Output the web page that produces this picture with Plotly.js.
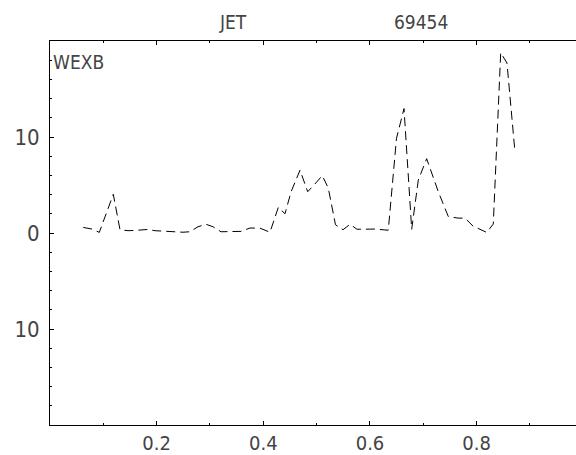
<!DOCTYPE html>
<html>
<head>
<meta charset="utf-8">
<script src="https://cdn.plot.ly/plotly-3.0.1.min.js"></script>
<style>html,body{margin:0;padding:0;background:#fff;overflow:hidden}</style>
</head>
<body>
<div id="chart" style="width:576px;height:455px"></div>
<script>
// WEXB profile, JET pulse 69454
const rho = [0.0624,0.0806,0.0924,0.1187,0.1313,0.1463,0.1594,0.1725,0.1838,0.1969,
  0.2100,0.2250,0.2381,0.2494,0.2625,0.2775,0.2925,0.3056,0.3206,0.3394,
  0.3581,0.3750,0.3938,0.4125,0.4281,0.4406,0.4519,0.4688,0.4832,0.4950,
  0.5106,0.5218,0.5353,0.5494,0.5625,0.5756,0.5906,0.6094,0.6343,0.6497,
  0.6638,0.6782,0.6906,0.7063,0.7281,0.7468,0.7650,0.7782,0.7932,0.8063,
  0.8189,0.8312,0.8451,0.8569,0.8719];
const wexb = [0.58,0.39,0.06,4.03,0.34,0.24,0.27,0.29,0.37,0.24,
  0.19,0.19,0.13,0.08,0.13,0.65,0.91,0.65,0.13,0.13,
  0.17,0.52,0.50,0.08,2.67,2.00,4.27,6.55,4.30,5.00,
  5.98,4.68,0.86,0.34,0.91,0.39,0.39,0.41,0.29,9.86,
  12.96,0.39,5.51,7.74,4.30,1.72,1.55,1.55,0.72,0.34,
  0.06,0.93,18.78,17.70,8.41];
const xTickVals = [0.2, 0.4, 0.6, 0.8];
const xTickText = ["0.2", "0.4", "0.6", "0.8"];
const yTickVals = [-10, 0, 10];
const yTickText = ["10", "0", "10"];
const titleLeft = "JET";
const titleRight = "69454";
const seriesLabel = "WEXB";

const FONT = "Liberation Sans Narrow, DejaVu Sans Condensed, Liberation Sans, sans-serif";
const TXT = "#444";

const trace = {
  x: rho, y: wexb, type: "scatter", mode: "lines",
  line: {color: "#000", width: 1, dash: "9px,5px"},
  hoverinfo: "skip"
};

const layout = {
  width: 576, height: 455,
  margin: {l: 50, r: 0, t: 41, b: 30},
  paper_bgcolor: "#fff", plot_bgcolor: "#fff",
  showlegend: false,
  xaxis: {
    range: [0, 0.9863], showgrid: false, zeroline: false,
    showline: true, linecolor: "#000", linewidth: 1, mirror: "ticks",
    ticks: "inside", ticklen: 4, tickcolor: "#000", tickwidth: 1,
    tickmode: "array", tickvals: xTickVals, ticktext: xTickText,
    minor: {dtick: 0.1, tick0: 0, ticks: "inside", ticklen: 2, tickcolor: "#000", showgrid: false},
    tickfont: {family: FONT, size: 20, color: TXT},
    ticklabelstandoff: 0
  },
  yaxis: {
    range: [-20, 20], showgrid: false, zeroline: false,
    showline: true, linecolor: "#000", linewidth: 1, mirror: false,
    ticks: "inside", ticklen: 4, tickcolor: "#000", tickwidth: 1,
    tickmode: "array", tickvals: yTickVals, ticktext: yTickText,
    minor: {dtick: 2, tick0: 0, ticks: "inside", ticklen: 2, tickcolor: "#000", showgrid: false},
    tickfont: {family: FONT, size: 22, color: TXT},
    ticklabelstandoff: 5
  },
  annotations: [
    {text: titleLeft, xref: "paper", yref: "paper", x: 0.348, y: 1.05, xanchor: "center", yanchor: "middle",
     showarrow: false, font: {family: FONT, size: 19, color: TXT}},
    {text: titleRight, xref: "paper", yref: "paper", x: 0.705, y: 1.05, xanchor: "center", yanchor: "middle",
     showarrow: false, font: {family: FONT, size: 19, color: TXT}},
    {text: seriesLabel, xref: "paper", yref: "paper", x: 0.002, y: 0.945, xanchor: "left", yanchor: "middle",
     showarrow: false, font: {family: FONT, size: 19, color: TXT}}
  ]
};

Plotly.newPlot("chart", [trace], layout, {staticPlot: true, displayModeBar: false});
</script>
</body>
</html>
